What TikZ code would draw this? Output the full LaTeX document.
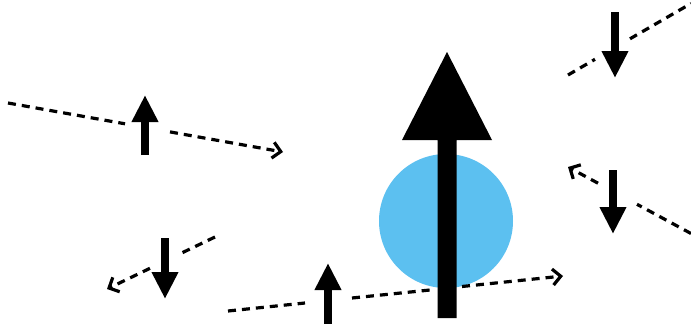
\documentclass[tikz,border=0pt]{standalone}
\usetikzlibrary{arrows.meta}
\definecolor{ballblue}{RGB}{92,192,240}
\tikzset{
  dline/.style={line width=3.2pt, dash pattern=on 8pt off 6pt, black},
  dtip/.style={-{Straight Barb[length=8pt,width=16pt,line width=3.2pt]}},
  spin/.style={line width=8pt, -{Triangle[length=27pt,width=25pt]}}
}
\begin{document}
\begin{tikzpicture}[x=1pt,y=-1pt]
\useasboundingbox[fill=white] (0,0) rectangle (691,324);
% ball
\fill[ballblue] (446,221) circle (67);
% named points
\coordinate (a1) at (8,103);   \coordinate (a2) at (125,123.8);
\coordinate (a3) at (170,131.9); \coordinate (a4) at (283,152);
\coordinate (b1) at (215,237); \coordinate (b2) at (180,253.8);
\coordinate (b3) at (150,268.3); \coordinate (b4) at (107,289);
\coordinate (c1) at (228,311); \coordinate (c2) at (305,303);
\coordinate (c3) at (352,298); \coordinate (c4) at (430,290);
\coordinate (c5) at (462,286.5); \coordinate (c6) at (563,276);
\coordinate (d1) at (568,75); \coordinate (d2) at (595,59.3);
\coordinate (d3) at (630,38.8); \coordinate (d4) at (691,3.5);
\coordinate (e1) at (691,233.5); \coordinate (e2) at (637,204.3);
\coordinate (e3) at (598,183.2); \coordinate (e4) at (568,167);
% dashed trajectories
\draw[dline] (a1) -- (a2);
\draw[dline,dtip] (a3) -- (a4);
\draw[dline] (b1) -- (b2);
\draw[dline,dtip] (b3) -- (b4);
\draw[dline] (c1) -- (c2);
\draw[dline] (c3) -- (c4);
\draw[dline,dtip] (c5) -- (c6);
\draw[dline] (d1) -- (d2);
\draw[dline] (d3) -- (d4);
\draw[dline] (e1) -- (e2);
\draw[dline,dtip] (e3) -- (e4);
% big spin arrow
\fill[black] (437.5,318) -- (437.5,140) -- (402,140) -- (447,52) -- (492,140) -- (456.5,140) -- (456.5,318) -- cycle;
% small spins
\draw[spin] (145,155) -- (145,95);
\draw[spin] (165,238) -- (165,299);
\draw[spin] (328,326) -- (328,263);
\draw[spin] (615,12) -- (615,78);
\draw[spin] (613,170) -- (613,234);
\end{tikzpicture}
\end{document}
